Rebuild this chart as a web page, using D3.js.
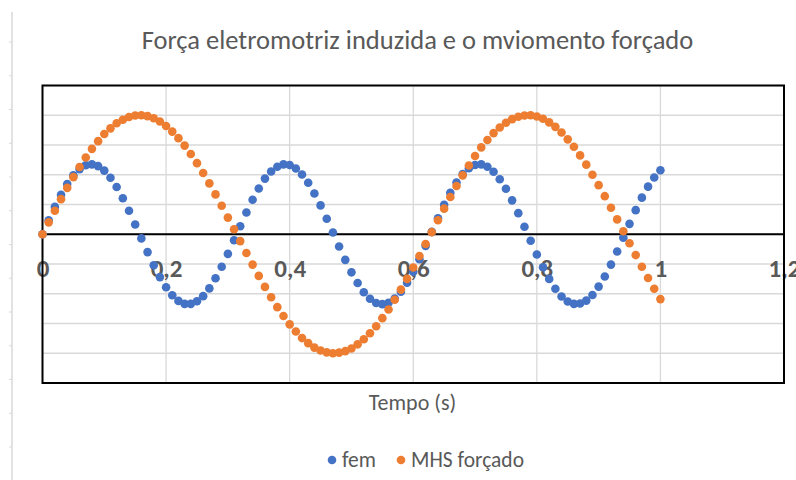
<!DOCTYPE html>
<html>
<head>
<meta charset="utf-8">
<script src="https://cdn.jsdelivr.net/npm/d3@7"></script>
<style>
  body { margin: 0; background: #fff; }
  svg { display: block; }
  text { font-family: Carlito, "Liberation Sans", "Open Sans", sans-serif; fill: #595959; }
</style>
</head>
<body>
<svg width="796" height="480"></svg>
<script>
// tempo (s)
const tempo = [0, 0.01, 0.02, 0.03, 0.04, 0.05, 0.06, 0.07, 0.08, 0.09,
  0.1, 0.11, 0.12, 0.13, 0.14, 0.15, 0.16, 0.17, 0.18, 0.19,
  0.2, 0.21, 0.22, 0.23, 0.24, 0.25, 0.26, 0.27, 0.28, 0.29,
  0.3, 0.31, 0.32, 0.33, 0.34, 0.35, 0.36, 0.37, 0.38, 0.39,
  0.4, 0.41, 0.42, 0.43, 0.44, 0.45, 0.46, 0.47, 0.48, 0.49,
  0.5, 0.51, 0.52, 0.53, 0.54, 0.55, 0.56, 0.57, 0.58, 0.59,
  0.6, 0.61, 0.62, 0.63, 0.64, 0.65, 0.66, 0.67, 0.68, 0.69,
  0.7, 0.71, 0.72, 0.73, 0.74, 0.75, 0.76, 0.77, 0.78, 0.79,
  0.8, 0.81, 0.82, 0.83, 0.84, 0.85, 0.86, 0.87, 0.88, 0.89,
  0.9, 0.91, 0.92, 0.93, 0.94, 0.95, 0.96, 0.97, 0.98, 0.99, 1];

// fem (azul)
const fem = [0, 0.47, 0.92, 1.33, 1.69, 1.98, 2.19, 2.32, 2.35, 2.29,
  2.14, 1.90, 1.59, 1.21, 0.79, 0.33, -0.14, -0.60, -1.04, -1.44,
  -1.78, -2.05, -2.24, -2.34, -2.34, -2.25, -2.08, -1.82, -1.48, -1.09,
  -0.66, -0.20, 0.27, 0.73, 1.16, 1.54, 1.87, 2.11, 2.27, 2.35,
  2.33, 2.21, 2.01, 1.73, 1.37, 0.97, 0.52, 0.06, -0.41, -0.86,
  -1.28, -1.64, -1.95, -2.17, -2.31, -2.35, -2.30, -2.16, -1.93, -1.63,
  -1.26, -0.84, -0.39, 0.08, 0.54, 0.99, 1.39, 1.74, 2.02, 2.22,
  2.33, 2.35, 2.27, 2.10, 1.85, 1.53, 1.14, 0.71, 0.25, -0.22,
  -0.68, -1.11, -1.50, -1.83, -2.09, -2.26, -2.34, -2.33, -2.23, -2.04,
  -1.76, -1.42, -1.02, -0.58, -0.12, 0.35, 0.81, 1.23, 1.60, 1.91, 2.15];

// MHS forçado (laranja)
const mhs = [0, 0.40, 0.79, 1.18, 1.56, 1.92, 2.26, 2.58, 2.87, 3.13,
  3.37, 3.56, 3.73, 3.85, 3.94, 3.99, 4.00, 3.97, 3.90, 3.79,
  3.64, 3.45, 3.23, 2.98, 2.70, 2.39, 2.06, 1.71, 1.34, 0.96,
  0.56, 0.17, -0.23, -0.63, -1.02, -1.40, -1.77, -2.12, -2.45, -2.75,
  -3.03, -3.27, -3.49, -3.66, -3.81, -3.91, -3.97, -4.00, -3.98, -3.93,
  -3.84, -3.70, -3.53, -3.33, -3.09, -2.82, -2.53, -2.20, -1.86, -1.50,
  -1.12, -0.73, -0.33, 0.07, 0.47, 0.86, 1.25, 1.62, 1.98, 2.31,
  2.63, 2.92, 3.17, 3.40, 3.59, 3.75, 3.87, 3.95, 3.99, 4.00,
  3.96, 3.88, 3.76, 3.61, 3.42, 3.19, 2.94, 2.65, 2.34, 2.00,
  1.65, 1.28, 0.89, 0.50, 0.10, -0.30, -0.70, -1.09, -1.47, -1.83, -2.18];

const xTicks = [0, 0.2, 0.4, 0.6, 0.8, 1, 1.2];
const xTickLabels = ["0", "0,2", "0,4", "0,6", "0,8", "1", "1,2"];
const yTicks = [-5, -4, -3, -2, -1, 0, 1, 2, 3, 4, 5];
const seriesNames = ["fem", "MHS forçado"];
const colors = ["#4472C4", "#ED7D31"];

const svg = d3.select("svg");

// linha cinza à esquerda (resto da planilha)
svg.append("line")
  .attr("x1", 12).attr("x2", 12).attr("y1", 12).attr("y2", 480)
  .attr("stroke", "#d9d9d9").attr("stroke-width", 1.5);
svg.selectAll(".rowtick")
  .data(d3.range(13))
  .enter().append("line")
  .attr("x1", 9).attr("x2", 12)
  .attr("y1", d => 42 + d * 33.75).attr("y2", d => 42 + d * 33.75)
  .attr("stroke", "#d9d9d9");

const plotLeft = 42.5, plotRight = 784, plotTop = 85.5, plotBottom = 383;

const x = d3.scaleLinear().domain([0, 1.2]).range([plotLeft, plotRight]);
const y = d3.scaleLinear().domain([-5, 5]).range([plotBottom, plotTop]);

// grade
svg.append("g")
  .selectAll("line")
  .data(yTicks)
  .enter().append("line")
  .attr("x1", plotLeft).attr("x2", plotRight)
  .attr("y1", d => y(d)).attr("y2", d => y(d))
  .attr("stroke", "#d9d9d9").attr("stroke-width", 1.3);
svg.append("g")
  .selectAll("line")
  .data(xTicks)
  .enter().append("line")
  .attr("x1", d => x(d)).attr("x2", d => x(d))
  .attr("y1", plotTop).attr("y2", plotBottom)
  .attr("stroke", "#d9d9d9").attr("stroke-width", 1.3);

// eixo x com rótulos
const xAxis = svg.append("g")
  .attr("transform", `translate(0,${y(0)})`)
  .call(d3.axisBottom(x).tickValues(xTicks).tickSize(0)
    .tickFormat((d, i) => xTickLabels[i]));
xAxis.select(".domain").remove();
xAxis.selectAll("text")
  .attr("y", 43).attr("dy", 0)
  .style("font-size", "25px").style("font-weight", "bold")
  .attr("fill", "#595959");

svg.append("line")
  .attr("x1", plotLeft).attr("x2", plotRight)
  .attr("y1", y(0)).attr("y2", y(0))
  .attr("stroke", "#000").attr("stroke-width", 2);

// borda
svg.append("rect")
  .attr("x", plotLeft).attr("y", plotTop)
  .attr("width", plotRight - plotLeft).attr("height", plotBottom - plotTop)
  .attr("fill", "none").attr("stroke", "#000").attr("stroke-width", 2);

// pontos
const series = [fem, mhs];
series.forEach((vals, s) => {
  svg.append("g")
    .selectAll("circle")
    .data(vals)
    .enter().append("circle")
    .attr("cx", (d, i) => x(tempo[i]))
    .attr("cy", d => y(d))
    .attr("r", 4.3)
    .attr("fill", colors[s]);
});

// títulos
svg.append("text")
  .attr("x", 417.5).attr("y", 48.5)
  .attr("text-anchor", "middle")
  .style("font-size", "26.5px")
  .text("Força eletromotriz induzida e o mviomento forçado");

svg.append("text")
  .attr("x", 412.5).attr("y", 410)
  .attr("text-anchor", "middle")
  .style("font-size", "22px")
  .text("Tempo (s)");

// legenda
const legendX = [332, 401];
seriesNames.forEach((name, i) => {
  svg.append("circle")
    .attr("cx", legendX[i]).attr("cy", 460).attr("r", 4.3)
    .attr("fill", colors[i]);
  svg.append("text")
    .attr("x", legendX[i] + 10).attr("y", 467)
    .style("font-size", "21.5px")
    .text(name);
});
</script>
</body>
</html>
